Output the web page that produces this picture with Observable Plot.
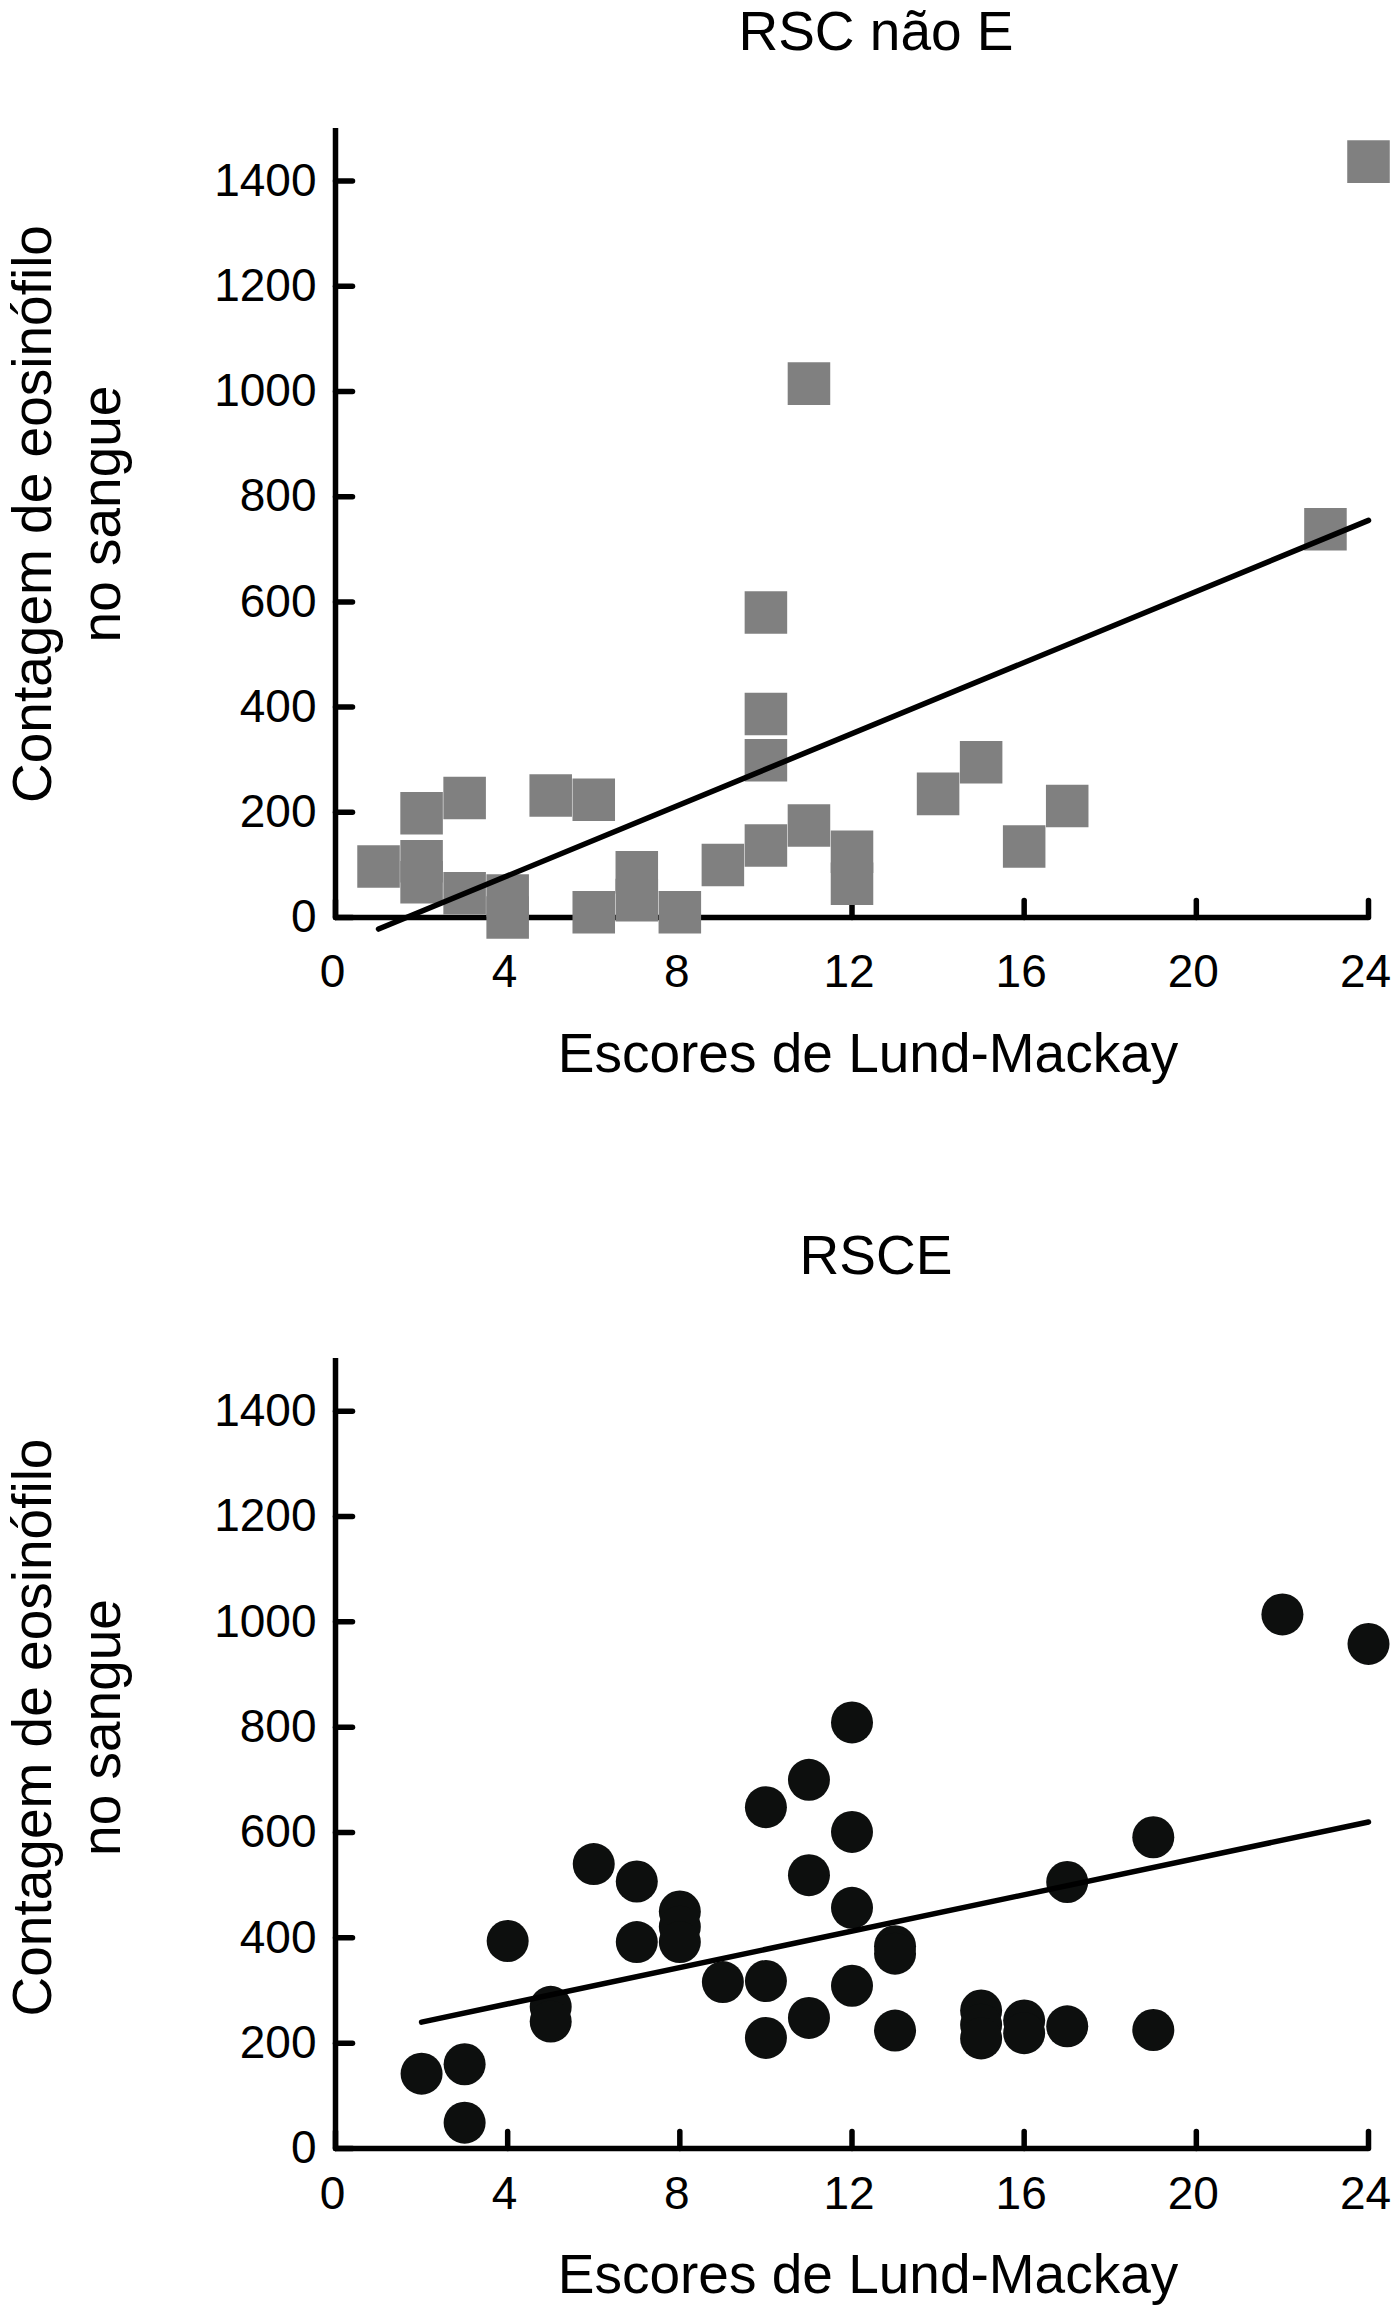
<!DOCTYPE html>
<html>
<head>
<meta charset="utf-8">
<script src="https://cdn.jsdelivr.net/npm/d3@7"></script>
<script src="https://cdn.jsdelivr.net/npm/@observablehq/plot@0.6"></script>
<style>
  body { margin: 0; background: #fff; font-family: "Liberation Sans", Arial, Helvetica, sans-serif; }
  .title { width: 1393px; box-sizing: border-box; font-size: 55px; line-height: 55px; text-align: center; padding-left: 359px; color: #000; }
</style>
</head>
<body>
<div class="title" style="height:100px;padding-top:4px">RSC não E</div>
<div id="chart1"></div>
<div class="title" style="height:227px;padding-top:128px">RSCE</div>
<div id="chart2"></div>
<script>
// RSC não E (squares)
const naoEScore = [1, 2, 2, 2, 3, 3, 4, 4, 5, 6, 6, 7, 7, 8, 9, 10, 10, 10, 10, 11, 11, 12, 12, 14, 15, 16, 17, 23, 24];
const naoECount = [97, 198, 107, 67, 227, 46, 42, 0, 232, 224, 10, 86, 33, 10, 100, 580, 387, 299, 137, 1015, 175, 125, 64, 235, 295, 135, 212, 738, 1437];
const naoEFitX = [1, 24];
const naoEFitY = [-22, 755];

// RSCE (circles)
const rsceScore = [2, 3, 3, 4, 5, 5, 6, 7, 7, 8, 8, 8, 9, 10, 10, 10, 11, 11, 11, 12, 12, 12, 12, 13, 13, 13, 15, 15, 15, 16, 16, 17, 17, 19, 19, 22, 24];
const rsceCount = [142, 160, 49, 394, 269, 241, 540, 507, 392, 450, 421, 392, 316, 648, 318, 210, 700, 519, 248, 809, 601, 457, 309, 384, 370, 224, 262, 235, 209, 243, 219, 506, 232, 591, 225, 1014, 958];
const rsceFitX = [2, 24];
const rsceFitY = [240, 620];

const xTicks = [0, 4, 8, 12, 16, 20, 24];
const yTicks = [0, 200, 400, 600, 800, 1000, 1200, 1400];

const xTitle = "Escores de Lund-Mackay";
const yTitle = "Contagem de eosinófilo\nno sangue";

// short straight tick, drawn from the axis inward
const tickShape = {
  draw(context, l) {
    context.moveTo(0, 0);
    context.lineTo(0, -l);
  }
};

function scatter(cfg) {
  const pts = cfg.xs.map((x, i) => ({x, y: cfg.ys[i]}));
  const fit = cfg.fitX.map((x, i) => ({x, y: cfg.fitY[i]}));
  return Plot.plot({
    width: 1393,
    height: cfg.height,
    marginTop: cfg.marginTop,
    marginBottom: cfg.marginBottom,
    marginLeft: 335,
    marginRight: 25,
    style: {fontFamily: '"Liberation Sans", Arial, Helvetica, sans-serif', fontSize: "46px", color: "#000"},
    x: {domain: [0, 24]},
    y: {domain: [0, 1500]},
    marks: [
      Plot.axisX({ticks: xTicks, tickSize: 0, tickPadding: cfg.xTickPad, tickFormat: d => String(d), label: null, fontSize: 46, dx: -3}),
      Plot.axisY({ticks: yTicks, tickSize: 0, tickPadding: 19, tickFormat: d => String(d), label: null, fontSize: 46}),
      Plot.vector(xTicks, {x: d => d, y: 0, length: 17, rotate: 0, anchor: "start", shape: tickShape, stroke: "#000", strokeWidth: 5.5}),
      Plot.vector(yTicks, {x: 0, y: d => d, length: 17, rotate: 90, anchor: "start", shape: tickShape, stroke: "#000", strokeWidth: 5.5}),
      Plot.ruleX([0], {stroke: "#000", strokeWidth: 5.5}),
      Plot.ruleY([0], {stroke: "#000", strokeWidth: 5.5}),
      Plot.dot(pts, {x: "x", y: "y", symbol: cfg.symbol, r: cfg.r, fill: cfg.fill, stroke: null}),
      Plot.line(fit, {x: "x", y: "y", stroke: "#000", strokeWidth: 5.5}),
      Plot.text([xTitle], {text: d => d, frameAnchor: "bottom", dx: 16, dy: cfg.xLabelDy, lineAnchor: "bottom", fontSize: 55}),
      Plot.text([yTitle], {text: d => d, frameAnchor: "left", rotate: -90, dx: -272, dy: cfg.yLabelDy, textAnchor: "middle", lineAnchor: "middle", lineHeight: 1.25, fontSize: 55})
    ]
  });
}

document.getElementById("chart1").appendChild(scatter({
  xs: naoEScore, ys: naoECount, fitX: naoEFitX, fitY: naoEFitY,
  symbol: "square", r: 24, fill: "#808080",
  height: 1000, marginTop: 28, marginBottom: 183,
  xTickPad: 37, xLabelDy: 154, yLabelDy: -9
}));

document.getElementById("chart2").appendChild(scatter({
  xs: rsceScore, ys: rsceCount, fitX: rsceFitX, fitY: rsceFitY,
  symbol: "circle", r: 21, fill: "#0d0f0e",
  height: 979, marginTop: 31, marginBottom: 158,
  xTickPad: 28, xLabelDy: 144, yLabelDy: -26
}));
</script>
</body>
</html>
